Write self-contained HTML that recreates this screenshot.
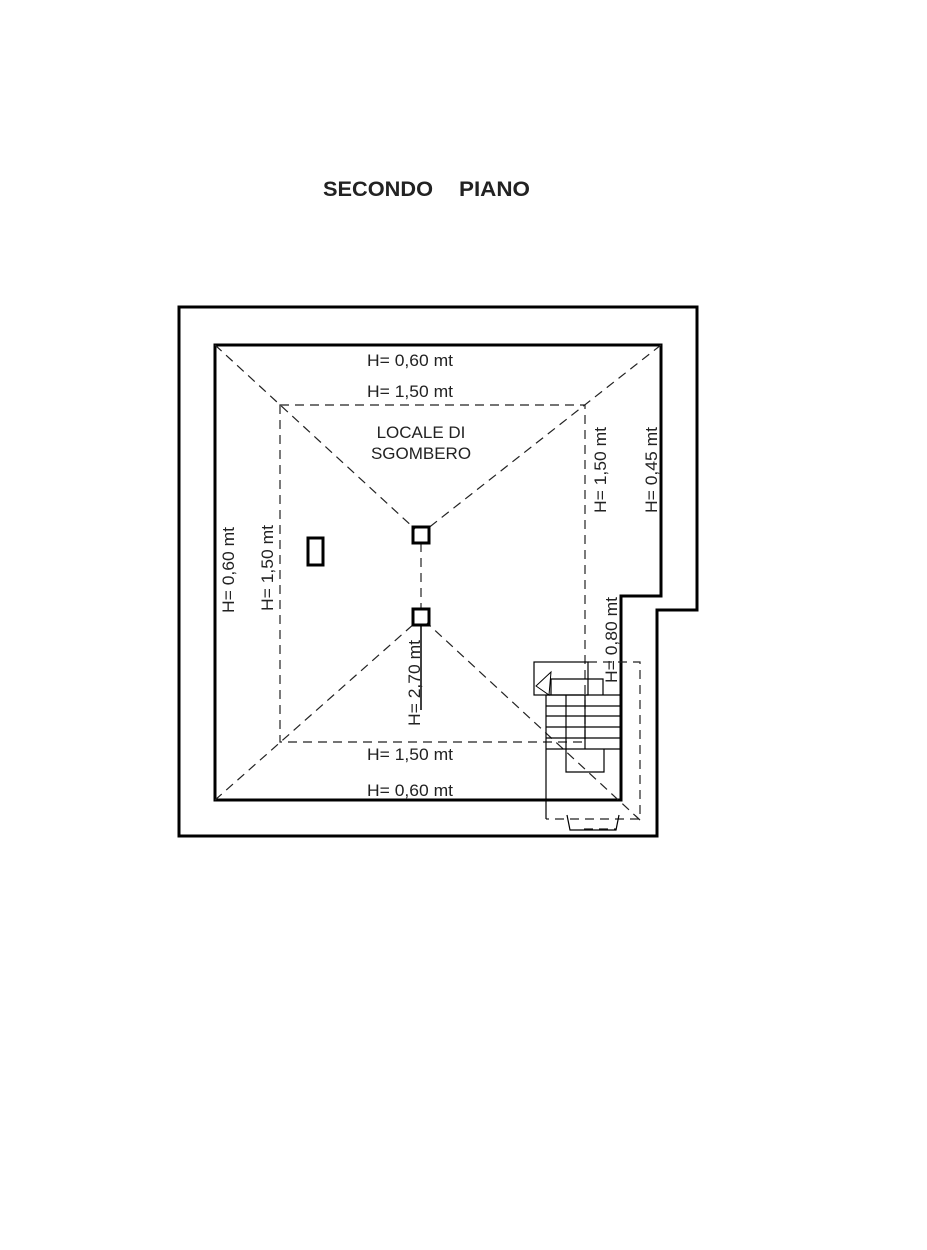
<!DOCTYPE html>
<html><head><meta charset="utf-8"><style>
html,body{margin:0;padding:0;background:#fff;}
svg{display:block;}
text{font-family:"Liberation Sans",Arial,sans-serif;fill:#222;}
</style></head><body>
<svg width="927" height="1250" viewBox="0 0 927 1250" xmlns="http://www.w3.org/2000/svg">
<rect width="927" height="1250" fill="#fff"/>
<text x="323" y="196" font-size="21" font-weight="bold" fill="#000" textLength="110" lengthAdjust="spacingAndGlyphs">SECONDO</text>
<text x="459" y="196" font-size="21" font-weight="bold" fill="#000" textLength="71" lengthAdjust="spacingAndGlyphs">PIANO</text>
<g fill="none" stroke="#000" stroke-width="3">
<path d="M179 307 H697 V610 H657 V836 H179 Z"/>
<path d="M215 345 H661 V596 H621 V800 H215 Z"/>
</g>
<g fill="none" stroke="#222" stroke-width="1.2" stroke-dasharray="9,6">
<rect x="280" y="405" width="305" height="337"/>
<line x1="215" y1="345" x2="415" y2="529"/>
<line x1="661" y1="345" x2="427" y2="529"/>
<line x1="215" y1="800" x2="415" y2="623"/>
<line x1="640" y1="820" x2="427" y2="623"/>
<line x1="421" y1="543" x2="421" y2="608"/>
<path d="M588 662 H640 V819 H546"/>
<line x1="584" y1="829" x2="616" y2="829"/>
</g>
<g fill="none" stroke="#000" stroke-width="3">
<rect x="413" y="527" width="16" height="16"/>
<rect x="413" y="609" width="16" height="16"/>
<rect x="308" y="538" width="15" height="27"/>
</g>
<line x1="421" y1="625" x2="421" y2="710" stroke="#000" stroke-width="1.5"/>
<g fill="none" stroke="#000" stroke-width="1.2">
<rect x="534" y="662" width="54" height="33"/>
<path d="M551 695 V679 H603 V695"/>
<path d="M536 686 L551 672 L549 695 Z" stroke-width="1"/>
<path d="M546 695 H620 M546 706 H620 M546 716 H620 M546 727 H620 M546 738 H620 M546 749 H620"/>
<path d="M566 695 V772 H604 V749 M585 695 V749"/>
<line x1="546" y1="695" x2="546" y2="819"/>
<path d="M567 815 L570 830 H616 L619 815"/>
</g>
<g font-size="17">
<text x="410" y="366" text-anchor="middle" textLength="86" lengthAdjust="spacingAndGlyphs">H= 0,60 mt</text>
<text x="410" y="397" text-anchor="middle" textLength="86" lengthAdjust="spacingAndGlyphs">H= 1,50 mt</text>
<text x="421" y="438" text-anchor="middle">LOCALE DI</text>
<text x="421" y="459" text-anchor="middle">SGOMBERO</text>
<text x="410" y="760" text-anchor="middle" textLength="86" lengthAdjust="spacingAndGlyphs">H= 1,50 mt</text>
<text x="410" y="796" text-anchor="middle" textLength="86" lengthAdjust="spacingAndGlyphs">H= 0,60 mt</text>
<text transform="translate(234,570) rotate(-90)" text-anchor="middle" textLength="86" lengthAdjust="spacingAndGlyphs">H= 0,60 mt</text>
<text transform="translate(273,568) rotate(-90)" text-anchor="middle" textLength="86" lengthAdjust="spacingAndGlyphs">H= 1,50 mt</text>
<text transform="translate(606,470) rotate(-90)" text-anchor="middle" textLength="86" lengthAdjust="spacingAndGlyphs">H= 1,50 mt</text>
<text transform="translate(657,470) rotate(-90)" text-anchor="middle" textLength="86" lengthAdjust="spacingAndGlyphs">H= 0,45 mt</text>
<text transform="translate(617,640) rotate(-90)" text-anchor="middle" textLength="86" lengthAdjust="spacingAndGlyphs">H= 0,80 mt</text>
<text transform="translate(420,683) rotate(-90)" text-anchor="middle" textLength="86" lengthAdjust="spacingAndGlyphs">H= 2,70 mt</text>
</g>
</svg>
</body></html>
